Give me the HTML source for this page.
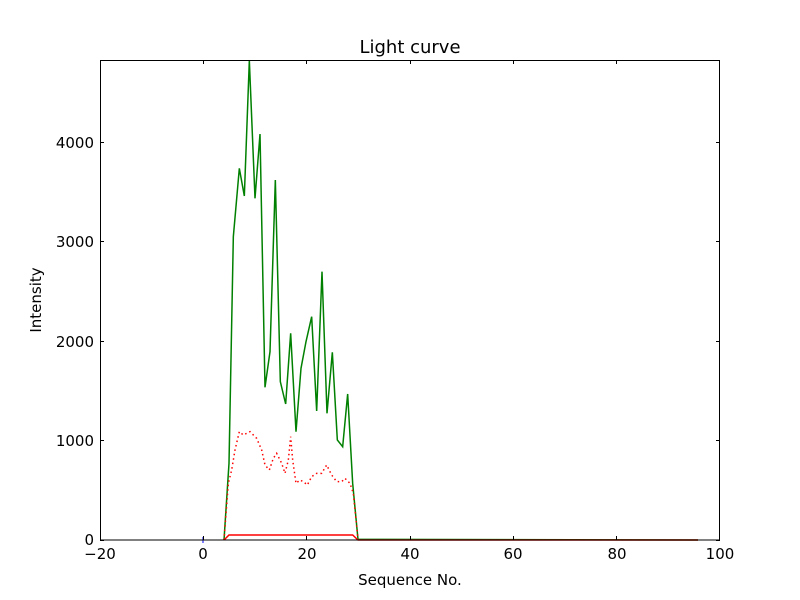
<!DOCTYPE html>
<html><head><style>body{margin:0;background:#fff}svg{display:block}text{font-family:"DejaVu Sans","Liberation Sans",sans-serif}</style></head><body>
<svg width="800" height="600" viewBox="0 0 800 600" xmlns="http://www.w3.org/2000/svg">
<rect width="800" height="600" fill="#fff"/>
<g transform="translate(200,50) scale(0.333333)" fill="none">
<polyline vector-effect="non-scaling-stroke" stroke="#008000" stroke-width="1.5" points="72,1470 87,1240 100,560 118,355 133,438 148,32 165,445 180,252 195,1012 210,905 226,390 241,995 257,1062 272,850 288,1145 303,955 318,875 335,800 350,1083 366,665 381,1090 397,907 412,1170 428,1190 443,1032 458,1300 474,1468 1494,1470"/>
<polyline vector-effect="non-scaling-stroke" stroke="#ff0000" stroke-width="1.5" stroke-dasharray="1.5,3" points="72,1470 85,1300 95,1260 105,1200 118,1145 130,1155 150,1145 170,1165 185,1200 195,1245 208,1260 220,1225 230,1210 245,1240 255,1270 265,1230 272,1160 278,1230 288,1300 300,1290 310,1295 322,1305 335,1280 350,1270 365,1270 380,1245 395,1275 410,1295 425,1295 435,1285 450,1300 460,1330 474,1468"/>
<polyline vector-effect="non-scaling-stroke" stroke="#ff0000" stroke-width="1.5" points="72,1470 87,1455 458,1455 474,1470 1494,1470"/>
</g>
<path d="M200,540h6M203,537v6" stroke="#0000ff" stroke-width="1"/>
<rect x="100.5" y="60.5" width="619" height="479.5" fill="none" stroke="#000" stroke-width="1"/>
<g stroke="#000" stroke-width="1">
<path d="M100.5,540v-4M100.5,60v4M203.5,540v-4M203.5,60v4M306.5,540v-4M306.5,60v4M410.5,540v-4M410.5,60v4M513.5,540v-4M513.5,60v4M616.5,540v-4M616.5,60v4M719.5,540v-4M719.5,60v4"/>
<path d="M100,540.5h4M720,540.5h-4M100,440.5h4M720,440.5h-4M100,341.5h4M720,341.5h-4M100,241.5h4M720,241.5h-4M100,142.5h4M720,142.5h-4"/>
</g>
<g font-size="15" fill="#000" text-anchor="middle">
<text x="100" y="559">−20</text><text x="203" y="559">0</text><text x="307" y="559">20</text><text x="410" y="559">40</text><text x="513" y="559">60</text><text x="617" y="559">80</text><text x="720" y="559">100</text>
</g>
<g font-size="15" fill="#000" text-anchor="end">
<text x="94" y="545">0</text><text x="94" y="446">1000</text><text x="94" y="347">2000</text><text x="94" y="247">3000</text><text x="94" y="148">4000</text>
</g>
<text x="410" y="585" font-size="15" text-anchor="middle">Sequence No.</text>
<text x="41" y="300" font-size="15" text-anchor="middle" transform="rotate(-90 41 300)">Intensity</text>
<text x="410" y="53" font-size="18" text-anchor="middle">Light curve</text>
</svg>
</body></html>
